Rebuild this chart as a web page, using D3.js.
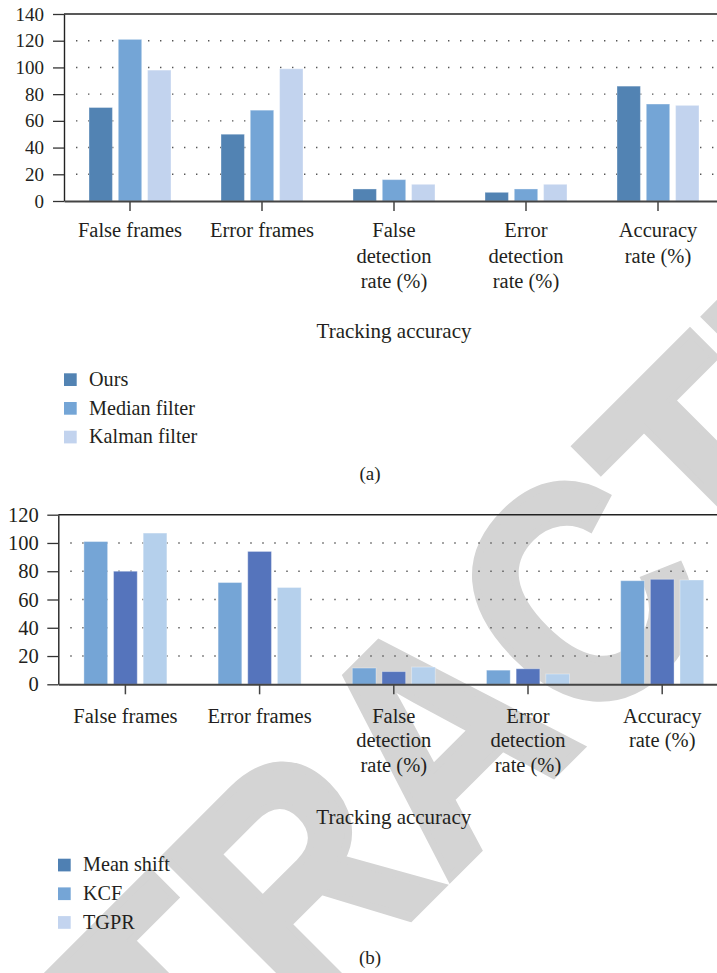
<!DOCTYPE html>
<html>
<head>
<meta charset="utf-8">
<script src="https://cdn.jsdelivr.net/npm/d3@7"></script>
<style>
  html, body { margin: 0; padding: 0; background: #fff; }
  svg { display: block; }
  text { font-family: "Liberation Serif", "Times New Roman", serif; fill: #231f20; }
</style>
</head>
<body>
<svg id="fig" width="717" height="973"></svg>
<script>
// ---- data ----
const categories = ["False frames", "Error frames", "False detection rate (%)", "Error detection rate (%)", "Accuracy rate (%)"];
const categoryLines = [["False frames"], ["Error frames"], ["False", "detection", "rate (%)"], ["Error", "detection", "rate (%)"], ["Accuracy", "rate (%)"]];

// panel (a)
const seriesA = ["Ours", "Median filter", "Kalman filter"];
const ours = [70, 50, 9, 6.5, 86];
const medianFilter = [121, 68, 16, 9, 72.6];
const kalmanFilter = [98, 99, 12.5, 12.5, 71.6];
const colorsA = ["#5283b3", "#74a5d6", "#c2d3ee"];
const ticksA = [0, 20, 40, 60, 80, 100, 120, 140];

// panel (b)
const seriesB = ["Mean shift", "KCF", "TGPR"];
const meanShift = [80, 94, 9, 11, 74.3];
const kcf = [101, 72, 11.5, 10, 73.3];
const tgpr = [107, 68.5, 12.2, 7.3, 73.8];
const barOrderB = ["KCF", "Mean shift", "TGPR"];
const barColorsB = ["#75a5d6", "#5574bc", "#b5d0ec"];
const legendColorsB = ["#4f80b3", "#75a5d6", "#c3d4ef"];
const ticksB = [0, 20, 40, 60, 80, 100, 120];

const svg = d3.select("#fig");
svg.append("rect").attr("width", 717).attr("height", 973).attr("fill", "#fff");

// watermark across the page, behind the charts (condensed heavy sans)
svg.append("text")
  .attr("transform", "translate(-84,1412) rotate(-45) scale(0.876,1)")
  .style("font-family", "'Liberation Sans', Arial, sans-serif")
  .style("font-weight", "bold")
  .style("font-size", "314px")
  .style("fill", "#d4d4d4")
  .style("stroke", "#d4d4d4")
  .style("stroke-width", "8px")
  .style("stroke-linejoin", "miter")
  .text("RETRACTED");

function drawPanel(cfg) {
  const g = svg.append("g");
  const x = d3.scaleBand().domain(categories).range([cfg.left, cfg.right]).padding(0);
  const bw = x.bandwidth();
  const inner = d3.scaleBand().domain(cfg.barKeys)
    .range([(bw - cfg.groupWidth) / 2, (bw + cfg.groupWidth) / 2])
    .paddingInner(0.2).paddingOuter(0);
  const y = d3.scaleLinear().domain([0, cfg.yMax]).range([cfg.bottom, cfg.top]);

  // dotted gridlines
  g.append("g").selectAll("line")
    .data(cfg.ticks.filter(t => t > 0 && t < cfg.yMax))
    .join("line")
    .attr("x1", cfg.left + 12).attr("x2", 717)
    .attr("y1", d => y(d)).attr("y2", d => y(d))
    .attr("stroke", "#555").attr("stroke-width", 1.4)
    .attr("stroke-dasharray", "1.4 10.6");

  // top frame line
  g.append("line")
    .attr("x1", cfg.left).attr("x2", 717)
    .attr("y1", y(cfg.yMax)).attr("y2", y(cfg.yMax))
    .attr("stroke", "#222").attr("stroke-width", 1.4);

  // bars
  cfg.barKeys.forEach((key, i) => {
    const vals = cfg.values[key];
    g.append("g").selectAll("rect")
      .data(categories.map((c, j) => ({ c, v: vals[j] })))
      .join("rect")
      .attr("x", d => x(d.c) + inner(key))
      .attr("width", inner.bandwidth())
      .attr("y", d => y(d.v))
      .attr("height", d => y(0) - y(d.v))
      .attr("fill", cfg.barColors[i])
      .attr("stroke", "rgba(255,255,255,0.35)")
      .attr("stroke-width", 1);
  });

  // y axis
  const yAxis = g.append("g")
    .attr("transform", `translate(${cfg.left},0)`)
    .call(d3.axisLeft(y).tickValues(cfg.ticks).tickSize(11).tickSizeOuter(0).tickPadding(cfg.tickPad).tickFormat(d3.format("d")));
  yAxis.select(".domain").attr("stroke", "#222").attr("stroke-width", 1.4);
  yAxis.selectAll(".tick line").attr("stroke", "#333").attr("stroke-width", 1.3);
  yAxis.selectAll(".tick text")
    .style("font-family", "'Liberation Serif', 'Times New Roman', serif")
    .style("font-size", cfg.yFont + "px").attr("fill", "#231f20");

  // x axis
  const xAxis = g.append("g")
    .attr("transform", `translate(0,${y(0)})`)
    .call(d3.axisBottom(x).tickSize(10).tickSizeOuter(0).tickFormat(""));
  xAxis.select(".domain").attr("stroke", "#444").attr("stroke-width", 2);
  xAxis.selectAll(".tick line").attr("stroke", "#444").attr("stroke-width", 1.5);

  // category labels, wrapped over several lines
  categories.forEach((c, j) => {
    const t = g.append("text")
      .attr("text-anchor", "middle")
      .style("font-size", "20.5px");
    categoryLines[j].forEach((line, k) => {
      t.append("tspan")
        .attr("x", x(c) + bw / 2)
        .attr("y", cfg.labelY + k * cfg.lineStep)
        .text(line);
    });
  });

  // axis title
  g.append("text")
    .attr("x", (cfg.left + cfg.right) / 2).attr("y", cfg.titleY)
    .attr("text-anchor", "middle").style("font-size", "21px")
    .text("Tracking accuracy");

  // legend
  const lg = g.append("g");
  cfg.legendNames.forEach((name, i) => {
    const yy = cfg.legendY + i * 28.7;
    lg.append("rect")
      .attr("x", cfg.legendX).attr("y", yy)
      .attr("width", 12.7).attr("height", 12.7)
      .attr("fill", cfg.legendColors[i]);
    lg.append("text")
      .attr("x", cfg.legendX + 25).attr("y", yy + 12.5)
      .style("font-size", "20.2px")
      .text(name);
  });

  // panel letter
  g.append("text")
    .attr("x", 370).attr("y", cfg.panelY)
    .attr("text-anchor", "middle").style("font-size", "19px")
    .text(cfg.panel);
}

drawPanel({
  left: 64, right: 724, top: 14, bottom: 201, yMax: 140, ticks: ticksA,
  groupWidth: 82, tickPad: 9, yFont: 19,
  barKeys: seriesA,
  values: { "Ours": ours, "Median filter": medianFilter, "Kalman filter": kalmanFilter },
  barColors: colorsA,
  labelY: 237, lineStep: 25.7, titleY: 338,
  legendNames: seriesA, legendColors: colorsA, legendX: 64, legendY: 373.3,
  panelY: 480, panel: "(a)"
});

drawPanel({
  left: 58.3, right: 729.3, top: 514.7, bottom: 684.3, yMax: 120, ticks: ticksB,
  groupWidth: 83, tickPad: 8.5, yFont: 20.5,
  barKeys: barOrderB,
  values: { "Mean shift": meanShift, "KCF": kcf, "TGPR": tgpr },
  barColors: barColorsB,
  labelY: 722.7, lineStep: 24.7, titleY: 824,
  legendNames: seriesB, legendColors: legendColorsB, legendX: 58, legendY: 858.7,
  panelY: 964, panel: "(b)"
});
</script>
</body>
</html>
